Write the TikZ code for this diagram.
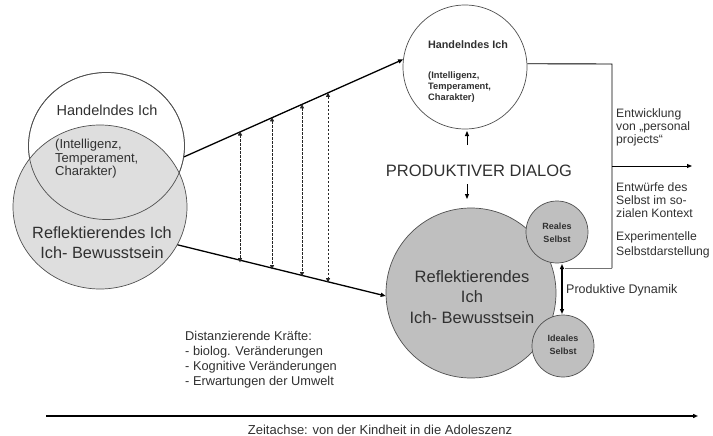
\documentclass[tikz,border=0pt]{standalone}
\usepackage{fontspec}
\setmainfont{Liberation Sans}
\usetikzlibrary{arrows.meta,calc,shapes.geometric}
\definecolor{txt}{HTML}{303030}
\definecolor{lgray}{HTML}{DEDEDE}
\definecolor{dgray}{HTML}{BFBFBF}
\definecolor{edge}{HTML}{505050}
\begin{document}
\begin{tikzpicture}[x=1pt,y=-1pt,
  circ/.style={circle,draw=edge,line width=0.7pt,inner sep=0pt,minimum size=#1},
  ell/.style={ellipse,draw=edge,line width=0.7pt,inner sep=0pt},
  lbl/.style={text=txt,inner sep=0pt},
  arr/.style={-{Triangle[length=5pt,width=4pt]},line width=1.1pt},
  dsh/.style={{Triangle[length=4.5pt,width=4pt]}-{Triangle[length=4.5pt,width=4pt]},dashed,dash pattern=on 2.5pt off 1.5pt,line width=0.8pt,draw=black!85},
  dbl/.style={{Triangle[length=5pt,width=4pt]}-{Triangle[length=5pt,width=4pt]},line width=1.2pt}]
\useasboundingbox (0,0) rectangle (713,436);

% left circles
\node[ell,minimum width=156pt,minimum height=147pt,fill=white] (hl) at (106.5,146) {};
\node[ell,minimum width=174pt,minimum height=164pt,fill=lgray] (rl) at (100,207) {};
\node[ell,minimum width=156pt,minimum height=147pt] (hlo) at (106.5,146) {};
\node[lbl,font=\fontsize{14.5}{17}\selectfont] (hlt) at (107,110) {Handelndes Ich};
\node[lbl,align=left,anchor=west,font=\fontsize{13}{13.6}\selectfont] (hlk) at (55,159) {(Intelligenz,\\Temperament,\\Charakter)};
\node[lbl,align=center,font=\fontsize{16.3}{20}\selectfont] (rlt) at (102,243) {Reflektierendes Ich\\Ich- Bewusstsein};

% right circles
\node[circ=124pt,fill=white] (hr) at (465,67) {};
\node[lbl,font=\bfseries\fontsize{10.8}{13}\selectfont] (hrt) at (468,45) {Handelndes Ich};
\node[lbl,align=left,anchor=west,font=\bfseries\fontsize{9.3}{10.6}\selectfont] (hrk) at (428,87) {(Intelligenz,\\Temperament,\\Charakter)};

\node[circ=170pt,fill=dgray] (rr) at (471,293) {};
\node[lbl,align=center,font=\fontsize{16.5}{20.5}\selectfont] (rrt) at (472,297) {Reflektierendes\\Ich\\Ich- Bewusstsein};
\node[circ=62pt,fill=dgray] (rs) at (557,232) {};
\node[lbl,align=center,font=\bfseries\fontsize{9}{13}\selectfont] (rst) at (557,233) {Reales\\Selbst};
\node[circ=62pt,fill=dgray] (is) at (563,346) {};
\node[lbl,align=center,font=\bfseries\fontsize{9}{13.5}\selectfont] (ist) at (563,345) {Ideales\\Selbst};

% main connecting lines
\draw[arr,line width=1.3pt] (hl.-8) -- (hr.173.5);
\draw[arr,line width=1.3pt] (rl.-26) -- (rr.182);

% dashed double arrows
\coordinate (d1t) at (240,131);   \coordinate (d1b) at (240,262.5);
\coordinate (d2t) at (272,117);   \coordinate (d2b) at (272,269.5);
\coordinate (d3t) at (302,104);   \coordinate (d3b) at (302,276.5);
\coordinate (d4t) at (328,92.5);  \coordinate (d4b) at (328,282.5);
\draw[dsh] (d1t) -- (d1b);
\draw[dsh] (d2t) -- (d2b);
\draw[dsh] (d3t) -- (d3b);
\draw[dsh] (d4t) -- (d4b);

% produktiver dialog
\node[lbl,font=\fontsize{16.5}{20}\selectfont] (pd) at (479,171) {PRODUKTIVER DIALOG};
\coordinate (pu1) at (467,145); \coordinate (pu2) at (467,131);
\coordinate (pd1) at (467,184); \coordinate (pd2) at (467,199);
\draw[arr,line width=1pt] (pu1) -- (pu2);
\draw[arr,line width=1pt] (pd1) -- (pd2);

% right frame
\coordinate (c1) at (612,64);
\coordinate (c2) at (612,268);
\coordinate (c3) at (565,268);
\coordinate (am) at (612,166);
\coordinate (ae) at (692,166);
\draw[line width=0.9pt] (hr.3) -- (c1) -- (c2);
\draw[line width=0.9pt,draw=black!55] (c2) -- (c3);
\draw[arr,line width=1pt] (am) -- (ae);

% produktive dynamik
\coordinate (pdy1) at (562,264);
\coordinate (pdy2) at (562,314);
\draw[dbl] (pdy1) -- (pdy2);

% right texts
\node[lbl,align=left,anchor=west,font=\fontsize{12.2}{13}\selectfont] (t1) at (616,127.5) {Entwicklung\\von „personal\\projects“};
\node[lbl,align=left,anchor=west,font=\fontsize{12.2}{13.2}\selectfont] (t2) at (616,200) {Entwürfe des\\Selbst im so-\\zialen Kontext};
\node[lbl,align=left,anchor=west,font=\fontsize{12.2}{14.5}\selectfont] (t3) at (616,245) {Experimentelle\\Selbstdarstellung};
\node[lbl,anchor=west,font=\fontsize{12.5}{14}\selectfont] (t4) at (566,290) {Produktive Dynamik};

% distanzierende kraefte
\node[lbl,align=left,anchor=west,font=\fontsize{12.8}{15}\selectfont] (dk) at (185,359.5) {Distanzierende Kräfte:\\- biolog. Veränderungen\\- Kognitive Veränderungen\\- Erwartungen der Umwelt};

% time axis
\coordinate (z1) at (46,416);
\coordinate (z2) at (698,416);
\draw[arr,line width=1.3pt] (z1) -- (z2);
\node[lbl,font=\fontsize{13}{15}\selectfont] (zt) at (380,430) {Zeitachse: von der Kindheit in die Adoleszenz};
\end{tikzpicture}
\end{document}
